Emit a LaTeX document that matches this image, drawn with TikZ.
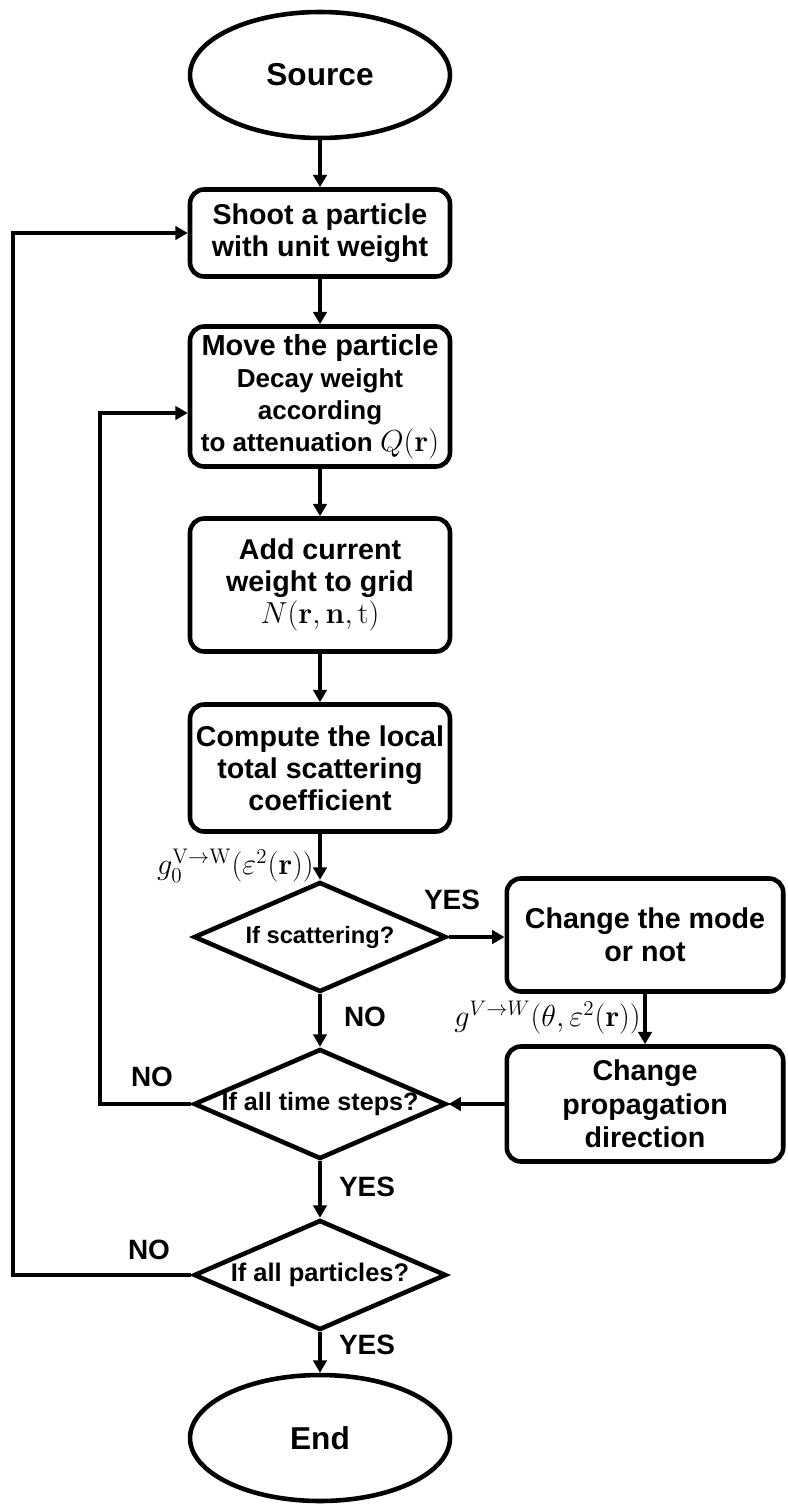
\documentclass[tikz,border=0pt]{standalone}
\usepackage[no-math]{fontspec}
\setmainfont{Liberation Sans}
\usetikzlibrary{shapes.geometric,arrows.meta}

\begin{document}
\begin{tikzpicture}[x=0.02cm,y=-0.02cm,line width=2.6pt,
  arr/.style={-{Triangle[length=7pt,width=7.6pt]}},
  term/.style={draw,ellipse,inner sep=0pt,minimum width=5.2cm,minimum height=2.52cm},
  proc/.style={draw,rounded corners=8pt,align=center,inner sep=0pt,minimum width=5.2cm},
  test/.style={draw,diamond,aspect=2.27,inner xsep=-12pt,inner ysep=0pt,minimum width=5.05cm,minimum height=2.2cm},
  big/.style={font=\fontsize{16.3}{18.2}\selectfont\bfseries},
  mid/.style={font=\fontsize{14.8}{18.2}\selectfont\bfseries},
  lab/.style={font=\fontsize{15.9}{18}\selectfont\bfseries},
  eq/.style={font=\fontsize{17}{18}\selectfont,inner sep=0pt}]
  \useasboundingbox (0,0) rectangle (787,1506);

  \node[term,font=\fontsize{18}{20}\selectfont\bfseries] (src) at (320,75) {Source};
  \node[proc,big,minimum height=1.74cm] (shoot) at (320,233) {Shoot a particle\\with unit weight};
  \node[proc,mid,minimum height=2.8cm] (move) at (320,396.5)
    {{\fontsize{16.5}{18.2}\selectfont Move the particle}\\Decay weight\\according\\to attenuation {\fontsize{16.5}{18}\selectfont$Q(\mathbf{r})$}};
  \node[proc,big,minimum height=2.66cm] (add) at (320,585)
    {Add current\\weight to grid\\{\fontsize{17}{18}\selectfont$N(\mathbf{r},\mathbf{n},\mathrm{t})$}};
  \node[proc,big,minimum height=2.54cm] (comp) at (320,768)
    {Compute the local\\total scattering\\coefficient};
  \node[test,font=\fontsize{13.5}{15}\selectfont\bfseries] (d1) at (320,937) {If scattering?};
  \node[proc,font=\fontsize{16.3}{18.8}\selectfont\bfseries,minimum width=5.53cm,minimum height=2.26cm] (mode) at (645,935)
    {Change the mode\\or not};
  \node[proc,font=\fontsize{16.3}{19}\selectfont\bfseries,minimum width=5.53cm,minimum height=2.3cm] (prop) at (645,1104)
    {Change\\propagation\\direction};
  \node[test,font=\fontsize{14.3}{16}\selectfont\bfseries] (d2) at (320,1104) {If all time steps?};
  \node[test,font=\fontsize{14.5}{16}\selectfont\bfseries] (d3) at (320,1275) {If all particles?};
  \node[term,font=\fontsize{18}{20}\selectfont\bfseries] (end) at (320,1438) {End};

  \node[eq,anchor=east] (g0) at (316,866) {$g_0^{\mathrm{V}\to\mathrm{W}}\bigl(\varepsilon^2(\mathbf{r})\bigr)$};
  \node[eq,anchor=east] (g1) at (643,1018) {$g^{V\to W}\bigl(\theta,\varepsilon^2(\mathbf{r})\bigr)$};

  \node[lab] (yes1) at (452,900) {YES};
  \node[lab] (no1) at (365,1017) {NO};
  \node[lab] (no2) at (152,1077) {NO};
  \node[lab] (yes2) at (367,1187) {YES};
  \node[lab] (no3) at (149,1250) {NO};
  \node[lab] (yes3) at (367,1345) {YES};

  \coordinate (lp1) at (13,233);
  \coordinate (lp2) at (100,413);

  \draw[arr] (src) -- (shoot);
  \draw[arr] (shoot) -- (move);
  \draw[arr] (move) -- (add);
  \draw[arr] (add) -- (comp);
  \draw[arr] (comp) -- (d1);
  \draw[arr] (d1.east) -- (d1.east -| mode.west);
  \draw[arr] (mode) -- (prop);
  \draw[arr] (prop) -- (d2);
  \draw[arr] (d1) -- (d2);
  \draw[arr] (d2) -- (d3);
  \draw[arr] (d3) -- (end);
  \draw[arr] (d2.west) -| (lp2) -- (lp2 -| move.west);
  \draw[arr] (d3.west) -| (lp1) -- (shoot.west);
\end{tikzpicture}
\end{document}
